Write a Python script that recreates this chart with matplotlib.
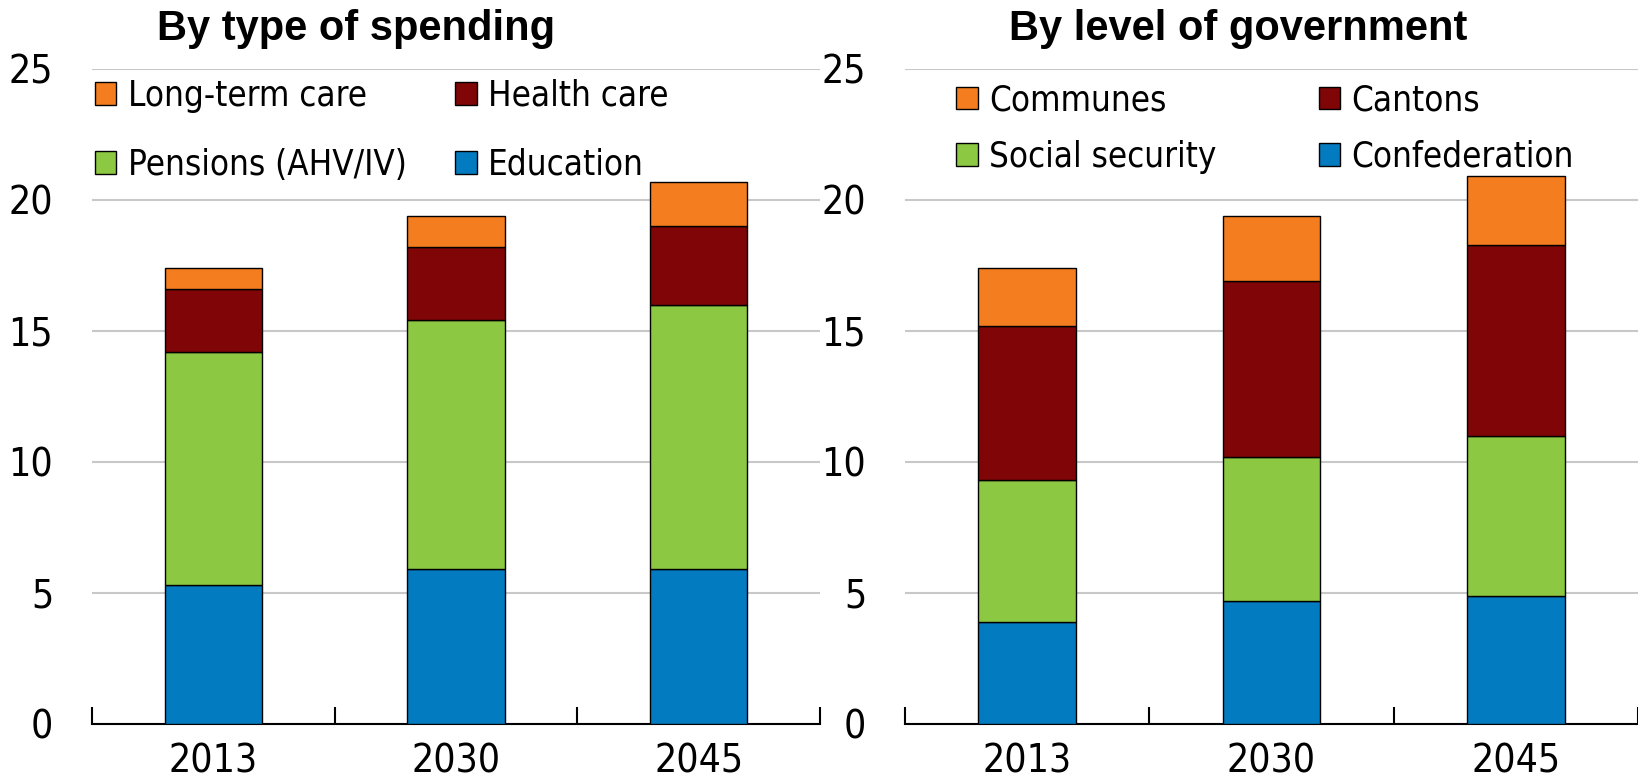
import matplotlib
matplotlib.use("Agg")
import matplotlib.pyplot as plt
import numpy as np

# years on the x axis
years = ["2013", "2030", "2045"]

# left panel: by type of spending (% of GDP)
education = [5.3, 5.9, 5.9]
pensions = [8.9, 9.5, 10.1]
health_care = [2.4, 2.8, 3.0]
long_term_care = [0.8, 1.2, 1.7]

# right panel: by level of government (% of GDP)
confederation = [3.9, 4.7, 4.9]
social_security = [5.4, 5.5, 6.1]
cantons = [5.9, 6.7, 7.3]
communes = [2.2, 2.5, 2.6]

BLUE = "#037bc1"
GREEN = "#8cc841"
RED = "#7f0506"
ORANGE = "#f47d20"

plt.rcParams["font.family"] = ["DejaVu Sans"]
plt.rcParams["font.stretch"] = "condensed"

fig = plt.figure(figsize=(16.38, 7.83), dpi=100)
ax1 = fig.add_axes([0.0562, 0.0754, 0.4444, 0.8365])
ax2 = fig.add_axes([0.5525, 0.0754, 0.4475, 0.8365])


def stacked(ax, series, colors, labels):
    x = np.arange(len(years))
    bottom = np.zeros(len(years))
    bars = []
    for vals, c, lab in zip(series, colors, labels):
        b = ax.bar(x, vals, 0.4, bottom=bottom, color=c, edgecolor="black",
                   linewidth=1.0, label=lab, zorder=3)
        bottom += np.array(vals)
        bars.append(b)
    ax.set_xlim(-0.5, 2.5)
    ax.set_ylim(0, 25)
    ax.set_yticks([0, 5, 10, 15, 20, 25])
    ax.grid(axis="y", color="#c8c8c8", linewidth=1.5, zorder=0)
    ax.set_xticks(x)
    ax.set_xticklabels(years)
    ax.set_xticks([-0.5, 0.5, 1.5, 2.5], minor=True)
    ax.tick_params(axis="x", which="major", length=0, labelsize=28, pad=13)
    ax.tick_params(axis="x", which="minor", direction="in", length=12, width=1.5)
    ax.tick_params(axis="y", length=0, labelsize=28, pad=28)
    for s in ["top", "right", "left"]:
        ax.spines[s].set_visible(False)
    ax.spines["bottom"].set_linewidth(1.5)
    return bars


b1 = stacked(ax1, [education, pensions, health_care, long_term_care],
             [BLUE, GREEN, RED, ORANGE],
             ["Education", "Pensions (AHV/IV)", "Health care", "Long-term care"])
b2 = stacked(ax2, [confederation, social_security, cantons, communes],
             [BLUE, GREEN, RED, ORANGE],
             ["Confederation", "Social security", "Cantons", "Communes"])

# legends: two columns, top row is the top of the stack
leg_kw = dict(ncol=2, frameon=False, fontsize=25, handlelength=0.62,
              handleheight=0.62, handletextpad=0.32,
              borderaxespad=0, borderpad=0)
ax1.legend([b1[3], b1[1], b1[2], b1[0]],
           ["Long-term care", "Pensions (AHV/IV)", "Health care", "Education"],
           loc="upper left", bbox_to_anchor=(0.004, 0.985), columnspacing=1.4,
           labelspacing=1.0, **leg_kw)
ax2.legend([b2[3], b2[1], b2[2], b2[0]],
           ["Communes", "Social security", "Cantons", "Confederation"],
           loc="upper left", bbox_to_anchor=(0.07, 0.978), columnspacing=2.95,
           labelspacing=0.65, **leg_kw)

fig.text(0.2173, 0.963, "By type of spending", ha="center", va="center",
         fontsize=30, fontweight="bold", family=["Liberation Sans", "DejaVu Sans"],
         fontstretch="normal")
fig.text(0.7558, 0.963, "By level of government", ha="center", va="center",
         fontsize=30, fontweight="bold", family=["Liberation Sans", "DejaVu Sans"],
         fontstretch="normal")

fig.savefig("out.png", dpi=100)
